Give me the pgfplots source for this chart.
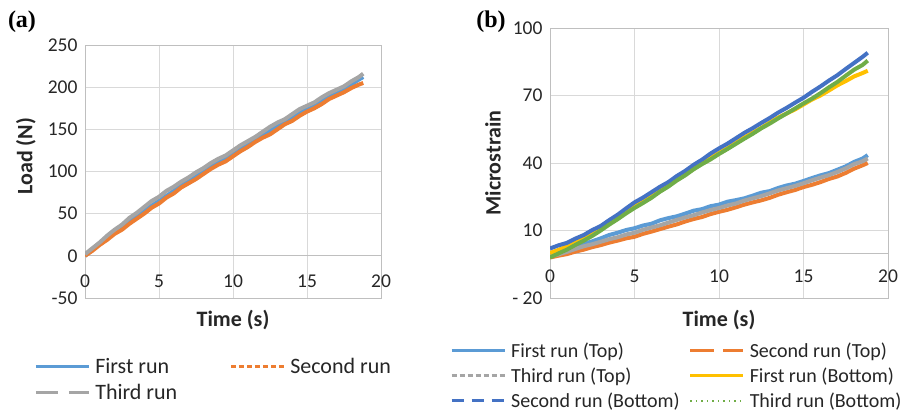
\documentclass[border=0pt]{standalone}
\usepackage{pgfplots}
\pgfplotsset{compat=1.18}
\usepackage{fontspec}
\setmainfont{Carlito}
\newfontfamily\serifb{Liberation Serif}
\definecolor{cblue}{HTML}{5B9BD5}
\definecolor{corange}{HTML}{ED7D31}
\definecolor{cgray}{HTML}{A5A5A5}
\definecolor{cyellow}{HTML}{FFC000}
\definecolor{cdblue}{HTML}{4472C4}
\definecolor{cgreen}{HTML}{70AD47}
\definecolor{gridc}{HTML}{D9D9D9}
\definecolor{axc}{HTML}{BFBFBF}
\pgfplotsset{
  excel/.style={
    scale only axis,
    axis line style={draw=axc, line width=0.9pt},
    grid=major,
    grid style={draw=gridc, line width=0.9pt},
    major tick length=0pt,
    xmin=0, xmax=20, xtick={0,5,10,15,20},
    ticklabel style={font=\fontsize{19.5}{21}\selectfont, text=black!85},
    yticklabel style={xshift=-4pt},
    /pgf/number format/assume math mode=true,
    xlabel style={at={(axis description cs:0.5,0)}, anchor=center, yshift=-22pt,
      font=\fontsize{22}{24}\selectfont\bfseries, text=black!85},
    ylabel style={anchor=center, font=\fontsize{22}{24}\selectfont\bfseries, text=black!85},
    legend cell align=left,
    legend image code/.code={\draw[##1] (0pt,0pt) -- (53pt,0pt); \path (56pt,0pt);},
    legend style={draw=none, fill=none, inner sep=0pt, legend columns=2,
      nodes={inner sep=2pt}, text=black!85},
    every axis plot/.append style={line width=4pt, line join=round},
  },
}
\begin{document}
\begin{tikzpicture}[x=1pt,y=1pt]
\useasboundingbox (0,0) rectangle (910,414);
\node[font=\fontsize{24}{28}\selectfont\serifb\bfseries] at (22,392) {(a)};
\node[font=\fontsize{24}{28}\selectfont\serifb\bfseries] at (491,392) {(b)};

% ---------------- (a) Load ----------------
\begin{axis}[excel,
  at={(85pt,116pt)}, anchor=south west,
  width=296pt, height=253pt,
  ymin=-50, ymax=250, ytick={-50,0,50,100,150,200,250},
  yticklabels={-50,0,50,100,150,200,250},
  xticklabel style={yshift=27pt},
  extra y ticks={0}, extra y tick labels={},
  extra y tick style={grid style={draw=axc, line width=0.9pt}},
  xlabel={Time (s)}, ylabel={Load (N)},
  ylabel style={at={(axis description cs:-0.2,0.56)}},
  legend style={at={(axis description cs:-0.172,-0.228)}, anchor=north west,
    font=\fontsize{22}{25}\selectfont, row sep=5.5pt,
    /tikz/every even column/.append style={column sep=50pt}},
]
\addlegendimage{cblue, line width=3pt}
\addlegendentry{First run}
\addlegendimage{corange, line width=3pt, dash pattern=on 5pt off 3pt}
\addlegendentry{Second run}
\addlegendimage{cgray, line width=3pt, dash pattern=on 22pt off 11pt}
\addlegendentry{Third run}
\addplot[cblue, forget plot] coordinates {
(0,0) (0.5,7) (1,14) (1.5,21) (2,28) (2.5,34.5) (3,41) (3.5,47.5) (4,54) (4.5,59.5)
(5,65) (5.5,71) (6,77) (6.5,83) (7,89) (7.5,94.5) (8,100) (8.5,105.5) (9,111) (9.5,116)
(10,121) (10.5,126.5) (11,132) (11.5,137.5) (12,143) (12.5,148.5) (13,154) (13.5,159)
(14,164) (14.5,169) (15,174) (15.5,179) (16,184) (16.5,188.5) (17,193) (17.5,198)
(18,203) (18.5,209) (18.8,212)
};
\addplot[corange, forget plot] coordinates {
(0,0) (0.5,6) (1,13) (1.5,19) (2,26) (2.5,31) (3,38) (3.5,44) (4,50) (4.5,57)
(5,62) (5.5,69) (6,74) (6.5,81) (7,86) (7.5,91) (8,97) (8.5,103) (9,108) (9.5,112)
(10,118) (10.5,124) (11,129) (11.5,135) (12,140) (12.5,144) (13,150) (13.5,156)
(14,160) (14.5,166) (15,171) (15.5,175) (16,180) (16.5,186) (17,190) (17.5,194)
(18,199) (18.5,203) (18.8,205)
};
\addplot[cgray, forget plot] coordinates {
(0,2) (0.5,9) (1,16) (1.5,24) (2,31) (2.5,37) (3,45) (3.5,51) (4,58) (4.5,65)
(5,70) (5.5,77) (6,82) (6.5,88) (7,93) (7.5,99) (8,104) (8.5,110) (9,115) (9.5,119)
(10,125) (10.5,131) (11,136) (11.5,141) (12,147) (12.5,153) (13,158) (13.5,162)
(14,168) (14.5,174) (15,178) (15.5,182) (16,188) (16.5,193) (17,197) (17.5,201)
(18,207) (18.5,212) (18.8,216)
};
\end{axis}

% ---------------- (b) Microstrain ----------------
\begin{axis}[excel,
  at={(550pt,116pt)}, anchor=south west,
  width=338pt, height=270pt,
  ymin=-20, ymax=100, ytick={-20,10,40,70,100},
  yticklabels={- 20,10,40,70,100},
  xticklabel style={yshift=32pt},
  extra y ticks={0}, extra y tick labels={},
  extra y tick style={grid style={draw=axc, line width=0.9pt}},
  xlabel={Time (s)}, ylabel={Microstrain},
  ylabel style={at={(axis description cs:-0.169,0.5)}},
  legend style={at={(axis description cs:-0.296,-0.158)}, anchor=north west,
    font=\fontsize{20}{24.5}\selectfont, row sep=4.8pt,
    /tikz/every even column/.append style={column sep=7pt}},
]
\addlegendimage{cblue, line width=3pt}
\addlegendentry{First run (Top)}
\addlegendimage{corange, line width=3pt, dash pattern=on 24pt off 9pt}
\addlegendentry{Second run (Top)}
\addlegendimage{cgray, line width=3pt, dash pattern=on 5pt off 3pt}
\addlegendentry{Third run (Top)}
\addlegendimage{cyellow, line width=3pt}
\addlegendentry{First run (Bottom)}
\addlegendimage{cdblue, line width=3pt, dash pattern=on 12pt off 8pt}
\addlegendentry{Second run (Bottom)}
\addlegendimage{cgreen, line width=2.5pt, dash pattern=on 1.5pt off 4pt}
\addlegendentry{Third run (Bottom)}
\addplot[cblue, forget plot] coordinates {
(0,-1) (0.5,0) (1,1) (1.5,2.8) (2,4) (2.5,5.2) (3,6.5) (3.5,8) (4,9) (4.5,10.2)
(5,11) (5.5,12.2) (6,13) (6.5,14.5) (7,15.5) (7.5,16.3) (8,17.5) (8.5,18.8) (9,19.5)
(9.5,20.8) (10,21.5) (10.5,22.8) (11,23.5) (11.5,24.3) (12,25.5) (12.5,26.8) (13,27.5)
(13.5,28.9) (14,30) (14.5,30.8) (15,32) (15.5,33.3) (16,34.5) (16.5,35.5) (17,37)
(17.5,38.5) (18,40.5) (18.5,42) (18.8,43.5)
};
\addplot[corange, forget plot] coordinates {
(0,-2) (0.5,-1.2) (1,-0.5) (1.5,0.6) (2,1.5) (2.5,2.6) (3,3.5) (3.5,4.6) (4,5.5) (4.5,6.5)
(5,7.2) (5.5,8.5) (6,9.5) (6.5,10.6) (7,11.7) (7.5,12.7) (8,14) (8.5,15.1) (9,16)
(9.5,17.3) (10,18.3) (10.5,19.2) (11,20.3) (11.5,21.5) (12,22.5) (12.5,23.4) (13,24.5)
(13.5,25.9) (14,27) (14.5,28) (15,29.3) (15.5,30.3) (16,31.5) (16.5,32.9) (17,34)
(17.5,35.6) (18,37.5) (18.5,39) (18.8,40)
};
\addplot[cgray, forget plot] coordinates {
(0,-1.5) (0.5,-0.6) (1,0.5) (1.5,1.8) (2,3) (2.5,3.9) (3,5) (3.5,6.1) (4,7) (4.5,8.2)
(5,9) (5.5,10.3) (6,11.3) (6.5,12.3) (7,13.5) (7.5,14.7) (8,15.8) (8.5,16.8) (9,18)
(9.5,19.1) (10,20) (10.5,21.1) (11,22) (11.5,23.3) (12,24.3) (12.5,25.3) (13,26.5)
(13.5,27.8) (14,28.8) (14.5,29.8) (15,31) (15.5,32.3) (16,33.5) (16.5,34.6) (17,36)
(17.5,37.6) (18,39.5) (18.5,40.8) (18.8,42)
};
\addplot[cyellow, forget plot] coordinates {
(0,0) (0.5,1.4) (1,3) (1.5,5.2) (2,7) (2.5,8.8) (3,11) (3.5,13.6) (4,16) (4.5,18.4)
(5,21) (5.5,23.4) (6,25.5) (6.5,27.6) (7,30) (7.5,32.6) (8,35) (8.5,37.4) (9,40)
(9.5,42.4) (10,44.5) (10.5,46.6) (11,49) (11.5,51.4) (12,53.5) (12.5,55.6) (13,58)
(13.5,60.2) (14,62) (14.5,63.8) (15,66) (15.5,68.2) (16,70) (16.5,72.2) (17,74.5)
(17.5,76.4) (18,78.5) (18.5,80) (18.8,81)
};
\addplot[cdblue, forget plot] coordinates {
(0,2) (0.5,3.4) (1,4.5) (1.5,6.4) (2,8) (2.5,10.2) (3,12) (3.5,14.6) (4,17) (4.5,19.8)
(5,22.5) (5.5,24.6) (6,27) (6.5,29.4) (7,31.5) (7.5,34.2) (8,36.5) (8.5,39.2) (9,41.5)
(9.5,44.2) (10,46.5) (10.5,48.6) (11,51) (11.5,53.4) (12,55.5) (12.5,57.8) (13,60)
(13.5,62.4) (14,64.5) (14.5,66.8) (15,69) (15.5,71.6) (16,74) (16.5,76.6) (17,79)
(17.5,81.8) (18,84.5) (18.5,87.2) (18.8,89)
};
\addplot[cgreen, forget plot] coordinates {
(0,-2) (0.5,-0.2) (1,1.5) (1.5,3.6) (2,5.5) (2.5,7.6) (3,10) (3.5,12.6) (4,15) (4.5,17.6)
(5,20) (5.5,22.2) (6,24.5) (6.5,27.2) (7,29.5) (7.5,32.2) (8,34.5) (8.5,37.2) (9,39.5)
(9.5,41.6) (10,44) (10.5,46.2) (11,48.5) (11.5,50.8) (12,53) (12.5,55.4) (13,57.5)
(13.5,59.8) (14,62) (14.5,64.2) (15,66.5) (15.5,68.6) (16,71) (16.5,73.6) (17,76)
(17.5,78.8) (18,81.5) (18.5,83.6) (18.8,85.5)
};
\end{axis}
\end{tikzpicture}
\end{document}
